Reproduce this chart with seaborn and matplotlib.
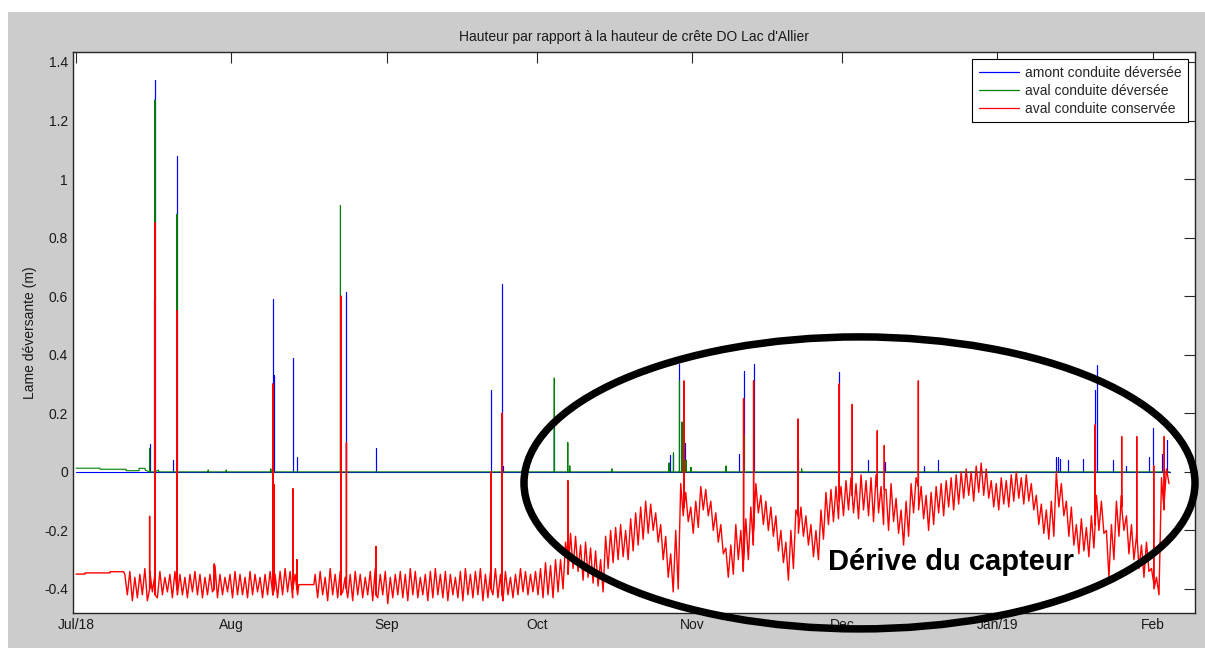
import numpy as np
import pandas as pd
import matplotlib
matplotlib.use("Agg")
import matplotlib.pyplot as plt
from matplotlib.patches import Ellipse, Rectangle
from matplotlib.lines import Line2D
import seaborn as sns

# ---------------------------------------------------------------- data
START = pd.Timestamp("2018-07-01")

series_labels = ["amont conduite déversée", "aval conduite déversée", "aval conduite conservée"]
series_colors = ["#0000ff", "#008000", "#ff0000"]

month_ticks = ["2018-07-01", "2018-08-01", "2018-09-01", "2018-10-01",
               "2018-11-01", "2018-12-01", "2019-01-01", "2019-02-01"]
month_labels = ["Jul/18", "Aug", "Sep", "Oct", "Nov", "Dec", "Jan/19", "Feb"]
y_ticks = [-0.4, -0.2, 0.0, 0.2, 0.4, 0.6, 0.8, 1.0, 1.2, 1.4]

# base levels (days since 1 Jul 2018)
amont_days = [0.0, 218.4]
amont_vals = [0.0, 0.0]

aval_dev_days = [0.0, 4.8, 4.8, 10.0, 10.0, 12.6, 12.6, 13.8, 13.8, 16.5, 16.5, 218.4]
aval_dev_vals = [0.0126, 0.0126, 0.009, 0.009, 0.004, 0.004, 0.012, 0.012, 0.006, 0.006, 0.0, 0.0]

cons_pre_days = [0.0, 1.8, 1.8, 6.8, 6.8, 9.5]
cons_pre_vals = [-0.349, -0.349, -0.345, -0.345, -0.341, -0.341]

# daily high / low of the conservée level, first stretch (from 9.5 d)
cons_seg1_start = 9.5
cons_seg1_hi = [-0.35, -0.34, -0.36, -0.35, -0.33, -0.34, -0.35, -0.34, -0.36, -0.35,
                -0.34, -0.35, -0.36, -0.35, -0.34, -0.35, -0.36, -0.35, -0.32, -0.35,
                -0.36, -0.35, -0.34, -0.35, -0.36, -0.34, -0.35, -0.36, -0.35, -0.34,
                -0.35, -0.34, -0.33, -0.34, -0.35]
cons_seg1_lo = [-0.42, -0.44, -0.43, -0.42, -0.44, -0.41, -0.43, -0.42, -0.41, -0.43,
                -0.42, -0.42, -0.43, -0.41, -0.42, -0.43, -0.42, -0.41, -0.43, -0.42,
                -0.41, -0.43, -0.42, -0.42, -0.43, -0.42, -0.41, -0.43, -0.42, -0.41,
                -0.43, -0.42, -0.41, -0.43, -0.42]

cons_gap_days = [44.5, 47.5]
cons_gap_vals = [-0.385, -0.385]

# second stretch (from 47.5 d), stable then drifting
cons_seg2_start = 47.5
cons_seg2_hi = [
    -0.35, -0.34, -0.36, -0.33, -0.35, -0.34, -0.36, -0.35, -0.34, -0.35,
    -0.36, -0.34, -0.33, -0.35, -0.34, -0.36, -0.35, -0.34, -0.35, -0.33,
    -0.34, -0.36, -0.35, -0.34, -0.33, -0.35, -0.34, -0.35, -0.36, -0.34,
    -0.33, -0.35, -0.34, -0.33, -0.35, -0.34, -0.33, -0.35, -0.34, -0.36,
    -0.35, -0.33, -0.34, -0.35,
    -0.34, -0.33, -0.31, -0.32, -0.30, -0.30,
    -0.24, -0.21, -0.22, -0.25, -0.24, -0.26, -0.27, -0.30,
    -0.22, -0.20, -0.19, -0.18, -0.20, -0.16, -0.14, -0.12,
    -0.10, -0.11, -0.14,
    -0.18, -0.22, -0.28, -0.20,
    -0.04, -0.07,
    -0.12, -0.10,
    -0.05, -0.06,
    -0.10, -0.14, -0.18,
    -0.26, -0.25,
    -0.18, -0.20,
    -0.16, -0.12,
    -0.04, -0.08, -0.10, -0.12,
    -0.15, -0.20, -0.24, -0.20,
    -0.13, -0.12,
    -0.15, -0.18, -0.20,
    -0.13, -0.07, -0.06, -0.05,
    -0.05, -0.03, -0.02, -0.04, -0.01, -0.03,
    -0.02, -0.01,
    -0.05, -0.06, -0.04, -0.09,
    -0.13, -0.10,
    -0.04, -0.02, -0.05,
    -0.08, -0.07,
    -0.05, -0.04, -0.03, -0.02, -0.01,
    0.00, 0.01, 0.00, 0.02, 0.03, 0.01,
    -0.03, -0.04, -0.02, -0.03,
    -0.01, 0.00, -0.02, -0.01, -0.04,
    -0.08, -0.11, -0.13, -0.10,
    0.00, -0.04,
    -0.10, -0.12,
    -0.18, -0.16, -0.19, -0.15,
    -0.08, -0.10,
    -0.20, -0.18,
    -0.10, -0.08,
    -0.15, -0.18,
    -0.22, -0.25, -0.24,
    -0.33, -0.36,
    -0.02, 0.01]
cons_seg2_lo = [
    -0.43, -0.42, -0.44, -0.42, -0.43, -0.41, -0.43, -0.44, -0.42, -0.43,
    -0.42, -0.44, -0.43, -0.42, -0.45, -0.43, -0.42, -0.43, -0.44, -0.42,
    -0.43, -0.42, -0.44, -0.43, -0.42, -0.43, -0.44, -0.42, -0.43, -0.44,
    -0.42, -0.43, -0.42, -0.44, -0.43, -0.42, -0.43, -0.44, -0.42, -0.43,
    -0.42, -0.41, -0.42, -0.41,
    -0.42, -0.43, -0.42, -0.43, -0.41, -0.40,
    -0.35, -0.33, -0.34, -0.37, -0.36, -0.38, -0.39, -0.41,
    -0.33, -0.31, -0.30, -0.29, -0.30, -0.27, -0.25, -0.23,
    -0.21, -0.20, -0.24,
    -0.30, -0.36, -0.41, -0.40,
    -0.15, -0.17,
    -0.21, -0.19,
    -0.13, -0.15,
    -0.20, -0.24, -0.28,
    -0.36, -0.35,
    -0.30, -0.34,
    -0.30, -0.25,
    -0.14, -0.18, -0.20, -0.22,
    -0.27, -0.31, -0.37, -0.33,
    -0.21, -0.22,
    -0.25, -0.29, -0.30,
    -0.23, -0.18, -0.17, -0.16,
    -0.15, -0.13, -0.14, -0.16, -0.13, -0.15,
    -0.17, -0.14,
    -0.18, -0.20, -0.17, -0.21,
    -0.25, -0.22,
    -0.14, -0.13, -0.16,
    -0.20, -0.18,
    -0.14, -0.15, -0.12, -0.13, -0.11,
    -0.09, -0.08, -0.10, -0.07, -0.08, -0.09,
    -0.12, -0.13, -0.11, -0.12,
    -0.10, -0.09, -0.11, -0.10, -0.13,
    -0.18, -0.21, -0.23, -0.22,
    -0.12, -0.15,
    -0.22, -0.25,
    -0.28, -0.27, -0.29, -0.26,
    -0.20, -0.21,
    -0.36, -0.30,
    -0.22, -0.20,
    -0.28, -0.30,
    -0.33, -0.36, -0.34,
    -0.40, -0.42,
    -0.13, -0.04]

# short events: (day, from, to)
amont_spikes = [(14.7, 0, 0.094), (15.55, 0, 0.59), (15.75, 0, 1.34), (19.4, 0, 0.04),
                (20.15, 0, 1.08), (39.3, 0, 0.59), (39.5, 0, 0.33), (43.3, 0, 0.39),
                (44.1, 0, 0.05), (54.0, 0, 0.615), (59.9, 0, 0.08), (82.9, 0, 0.28),
                (85.05, 0, 0.64), (85.35, 0, 0.02), (95.4, 0, 0.16), (118.6, 0, 0.058),
                (119.2, 0, 0.06), (120.5, 0, 0.37), (121.7, 0, 0.10), (132.4, 0, 0.06),
                (133.3, 0, 0.345), (135.3, 0, 0.37), (144.2, 0, 0.04), (152.4, 0, 0.34),
                (158.2, 0, 0.04), (161.6, 0, 0.035), (169.3, 0, 0.02), (172.2, 0, 0.04),
                (195.6, 0, 0.05), (196.0, 0, 0.05), (196.5, 0, 0.045), (198.0, 0, 0.04),
                (201.0, 0, 0.045), (203.4, 0, 0.28), (203.9, 0, 0.365), (207.0, 0, 0.04),
                (209.6, 0, 0.02), (214.2, 0, 0.05), (215.0, 0, 0.15), (216.8, 0, 0.06),
                (217.8, 0, 0.11)]
aval_dev_spikes = [(14.7, 0, 0.08), (15.75, 0, 1.27), (20.15, 0, 0.88), (26.4, 0, 0.006),
                   (30.0, 0, 0.006), (38.9, 0, 0.01), (52.8, 0, 0.91), (95.5, 0, 0.32),
                   (98.2, 0, 0.10), (98.6, 0, 0.02), (107.0, 0, 0.01), (118.4, 0, 0.03),
                   (119.3, 0, 0.065), (120.5, 0, 0.31), (121.0, 0, 0.17), (121.8, 0, 0.04),
                   (122.8, 0, 0.015), (129.8, 0, 0.02), (133.4, 0, 0.125), (135.3, 0, 0.31),
                   (144.9, 0, 0.01)]
cons_spikes = [(14.7, -0.40, -0.152), (15.8, -0.42, 0.85), (20.15, -0.40, 0.55),
               (27.6, -0.40, -0.315), (39.3, -0.42, 0.30), (39.6, -0.40, -0.045),
               (43.3, -0.40, -0.058), (44.1, -0.40, -0.30), (52.9, -0.42, 0.60),
               (54.0, -0.40, 0.10), (59.9, -0.42, -0.255), (82.9, -0.40, 0.0),
               (85.1, -0.42, 0.20), (98.2, -0.30, -0.03), (121.4, -0.12, 0.31),
               (133.3, -0.30, 0.25), (135.3, -0.20, 0.31), (144.2, -0.15, 0.18),
               (152.4, -0.10, 0.30), (155.0, -0.08, 0.23), (160.0, -0.05, 0.14),
               (161.4, -0.06, 0.09), (168.2, -0.05, 0.31), (203.5, -0.18, 0.16),
               (208.8, -0.12, 0.12), (211.8, -0.20, 0.12), (215.2, -0.38, 0.02),
               (217.3, -0.10, 0.12)]


# ---------------------------------------------------------------- helpers
def zigzag(start, hi, lo):
    d, v = [], []
    for i, (h, l) in enumerate(zip(hi, lo)):
        d += [start + i + 0.25, start + i + 0.75]
        v += [h, l]
    return d, v


def build(parts, spikes):
    d, v, o = [], [], []
    for dd, vv in parts:
        d += list(dd); v += list(vv); o += [0] * len(dd)
    for (t, a, b) in spikes:
        d += [t, t, t]; v += [a, b, a]; o += [1, 2, 3]
    df = pd.DataFrame({"day": d, "val": v, "o": o})
    df = df.sort_values(["day", "o"], kind="stable").reset_index(drop=True)
    df["date"] = START + pd.to_timedelta(df["day"], unit="D")
    return df


df_amont = build([(amont_days, amont_vals)], amont_spikes)
df_avd = build([(aval_dev_days, aval_dev_vals)], aval_dev_spikes)
cons_parts = [(cons_pre_days, cons_pre_vals),
              zigzag(cons_seg1_start, cons_seg1_hi, cons_seg1_lo),
              (cons_gap_days, cons_gap_vals),
              zigzag(cons_seg2_start, cons_seg2_hi, cons_seg2_lo)]
df_cons = build(cons_parts, cons_spikes)

# ---------------------------------------------------------------- figure
sns.set_style("white")
plt.rcParams["font.family"] = ["Liberation Sans", "DejaVu Sans"]

W, H = 1205, 648
fig = plt.figure(figsize=(W / 100, H / 100), dpi=100, facecolor="white")
fig.patches.append(Rectangle((8 / W, 0), 1 - 8 / W, 1 - 12 / H, transform=fig.transFigure,
                             facecolor="#cccccc", edgecolor="none", zorder=-10))

ax_l, ax_r, ax_t, ax_b = 72.7, 1195.3, 51.7, 613.3
ax = fig.add_axes([ax_l / W, 1 - ax_b / H, (ax_r - ax_l) / W, (ax_b - ax_t) / H])
ax.set_facecolor("white")

for df, col, z, lw in zip([df_amont, df_avd, df_cons], series_colors, [2, 3, 4],
                          [0.8, 0.8, 1.0]):
    sns.lineplot(data=df, x="date", y="val", ax=ax, color=col, linewidth=lw,
                 estimator=None, sort=False, legend=False, zorder=z)

ax.set_xlim(START - pd.Timedelta(days=0.66), START + pd.Timedelta(days=223.5))
ax.set_ylim(-0.483, 1.435)
ax.set_xticks(pd.to_datetime(month_ticks))
ax.set_xticklabels(month_labels)
ax.set_yticks(y_ticks)
ax.set_yticklabels([f"{round(v, 1):g}" for v in y_ticks])

ax.tick_params(axis="both", direction="in", length=8, width=0.8, color="#262626",
               labelsize=10, labelcolor="#1a1a1a", top=True, right=True)
ax.tick_params(axis="x", pad=3.5)
ax.tick_params(axis="y", pad=3.4)
for s in ax.spines.values():
    s.set_color("#262626")
    s.set_linewidth(1.0)

ax.set_xlabel("")
ax.set_ylabel("Lame déversante (m)", fontsize=10, color="#1a1a1a")
ax.yaxis.set_label_coords((37 - ax_l) / (ax_r - ax_l), 0.5)
ax.set_title("Hauteur par rapport à la hauteur de crête DO Lac d'Allier",
             fontsize=10, color="#1a1a1a", pad=7.7)

handles = [Line2D([0], [0], color=c, lw=0.9) for c in series_colors]
leg = ax.legend(handles, series_labels, loc="upper right",
                bbox_to_anchor=(1188 / W, 1 - 59.3 / H), bbox_transform=fig.transFigure,
                borderaxespad=0, frameon=True, fancybox=False, framealpha=1,
                edgecolor="black", fontsize=10, handlelength=2.9, handletextpad=0.45,
                labelspacing=0.3, borderpad=0.45)
leg.get_frame().set_linewidth(0.8)
leg.set_zorder(10)

# annotation: ellipse and text
ell = Ellipse((859.5 / W, 1 - 482.9 / H), width=671 / W, height=292 / H,
              transform=fig.transFigure, fill=False, edgecolor="black", linewidth=5.4,
              zorder=20)
fig.add_artist(ell)
fig.text(950.5 / W, 1 - 570 / H, "Dérive du capteur", ha="center", va="baseline",
         fontsize=21, fontweight="bold", color="black", zorder=21)

fig.savefig("out.png", dpi=100, facecolor=fig.get_facecolor())
